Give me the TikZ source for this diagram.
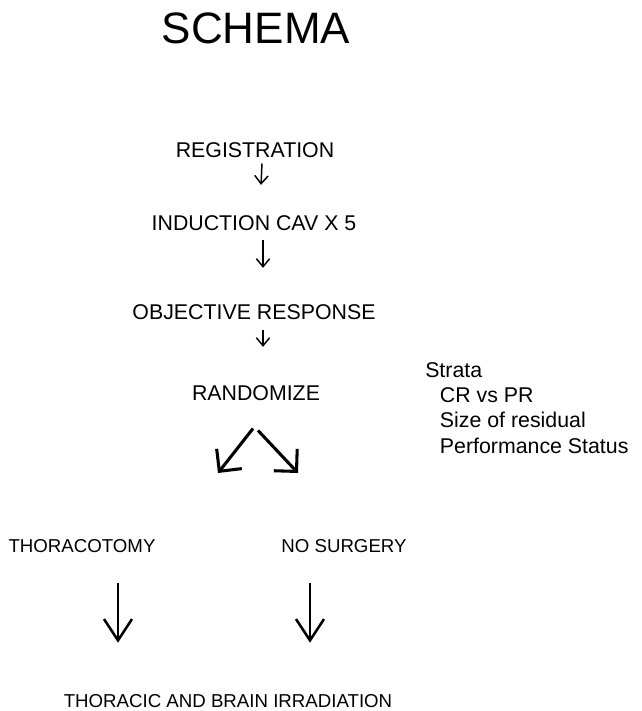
\documentclass[tikz,border=0pt]{standalone}
\usepackage{fontspec}
\setmainfont{Liberation Sans}
\usetikzlibrary{arrows.meta}
\begin{document}
\begin{tikzpicture}[x=0.75pt,y=-0.75pt,
    every node/.style={inner sep=0pt,anchor=base},
    flow/.style={font=\fontsize{16}{19}\selectfont},
    arm/.style={font=\fontsize{14}{17}\selectfont},
    thin arrow/.style={line width=1.1pt,-{Straight Barb[length=6pt,width=10pt]}},
    fork/.style={line width=2.3pt,-{Straight Barb[length=12pt,width=24pt]}},
    bigdown/.style={line width=1.9pt,-{Straight Barb[length=16pt,width=21pt]}}]
    \useasboundingbox (0,0) rectangle (642,711);

    \node[font=\fontsize{33}{40}\selectfont] (title) at (256,43) {SCHEMA};

    \node[flow] (reg) at (255,157) {REGISTRATION};
    \node[flow] (ind) at (254,230) {INDUCTION CAV X 5};
    \node[flow] (resp) at (254,319) {OBJECTIVE RESPONSE};
    \node[flow] (rand) at (256,400) {RANDOMIZE};
    \node[flow,anchor=north west,align=left] (strata) at (425,362)
        {Strata\\\hspace*{11pt}CR vs PR\\\hspace*{11pt}Size of residual\\\hspace*{11pt}Performance Status};

    \node[arm] (thor) at (82,552) {THORACOTOMY};
    \node[arm] (nosurg) at (344,552) {NO SURGERY};
    \node[arm] (irr) at (228,707) {THORACIC AND BRAIN IRRADIATION};

    \draw[thin arrow] ([shift={(7,6)}]reg.south) -- ([shift={(7,-30)}]ind.north);
    \draw[thin arrow] ([shift={(9,10)}]ind.south) -- ([shift={(9,-36)}]resp.north);
    \draw[thin arrow] ([shift={(9,11)}]resp.south) -- ([shift={(7,-38)}]rand.north);

    \coordinate (forkl) at (218,473);
    \coordinate (forkr) at (298,473);
    \draw[fork] ([shift={(-3,28)}]rand.south) -- (forkl);
    \draw[fork] ([shift={(2,30)}]rand.south) -- (forkr);

    \draw[bigdown] ([shift={(36,31)}]thor.south) -- ([shift={(-110,-51)}]irr.north);
    \draw[bigdown] ([shift={(-34,31)}]nosurg.south) -- ([shift={(82,-51)}]irr.north);
\end{tikzpicture}
\end{document}
